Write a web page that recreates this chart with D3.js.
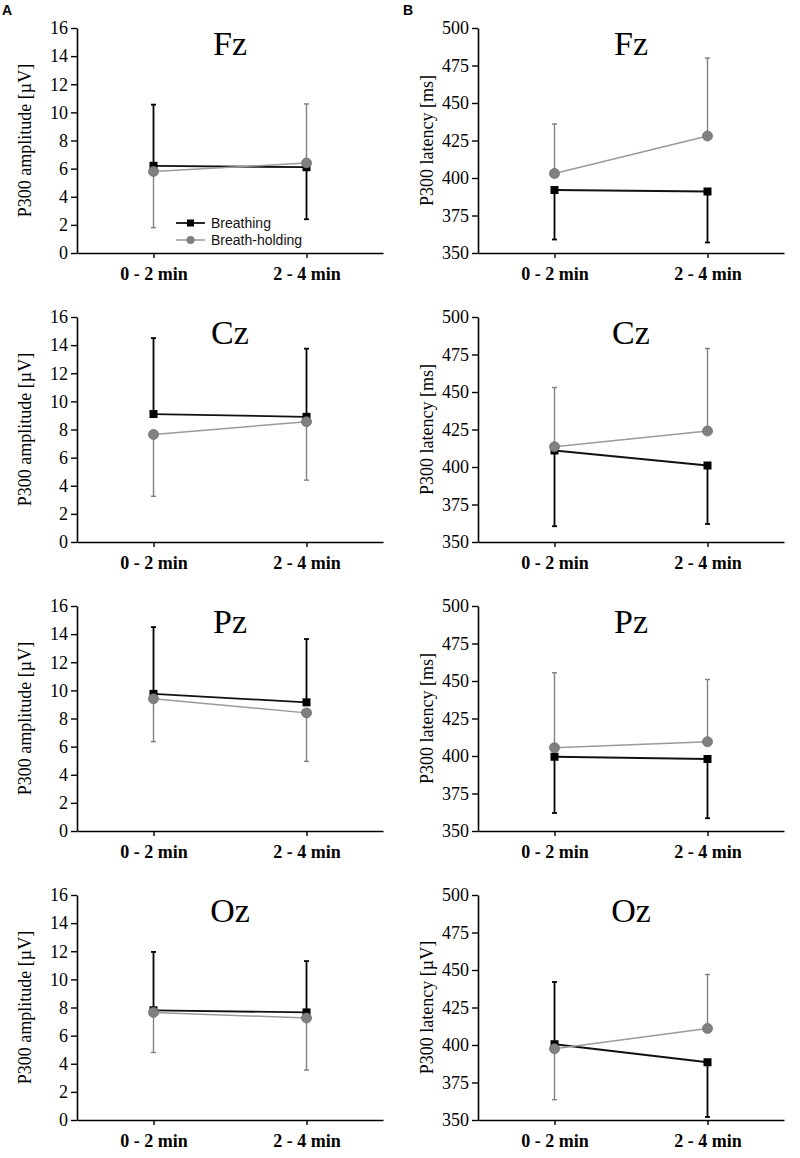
<!DOCTYPE html>
<html><head><meta charset="utf-8">
<script src="https://cdn.jsdelivr.net/npm/d3@7"></script>
<style>body{margin:0;background:#fff}svg{display:block}</style>
</head><body>
<script>
const categories = ["0 - 2 min", "2 - 4 min"];
const electrodes = ["Fz", "Cz", "Pz", "Oz"];
const seriesNames = ["Breathing", "Breath-holding"];
const ampTicks = [0, 2, 4, 6, 8, 10, 12, 14, 16];
const latTicks = [350, 375, 400, 425, 450, 475, 500];
const ampLabels = ["P300 amplitude [µV]", "P300 amplitude [µV]", "P300 amplitude [µV]", "P300 amplitude [µV]"];
const latLabels = ["P300 latency [ms]", "P300 latency [ms]", "P300 latency [ms]", "P300 latency [µV]"];

// Amplitude (µV): means and error-bar end values (one-sided bars)
const ampBreathing    = [[6.2, 6.1], [9.1, 8.9], [9.75, 9.15], [7.8, 7.65]];
const ampBreathingErr = [[10.55, 2.4], [14.5, 13.75], [14.5, 13.65], [11.95, 11.3]];
const ampHolding      = [[5.8, 6.4], [7.65, 8.55], [9.4, 8.4], [7.65, 7.25]];
const ampHoldingErr   = [[1.8, 10.6], [3.25, 4.4], [6.35, 4.95], [4.8, 3.55]];

// Latency (ms)
const latBreathing    = [[392, 391], [411, 401], [399.5, 398], [400.5, 388.5]];
const latBreathingErr = [[359, 357], [360.5, 362], [362, 358.5], [442, 352]];
const latHolding      = [[403, 428], [413.5, 424], [405.5, 409.5], [397.5, 411]];
const latHoldingErr   = [[436, 480], [453, 479], [455.5, 451], [363.5, 447]];

const W = 800, H = 1158;
const svg = d3.select("body").append("svg").attr("width", W).attr("height", H);

const rowTop = 28, rowStep = 289, plotH = 225;
const cols = [
  {x0: 77, x1: 383, ticks: ampTicks, dom: [0, 16], labels: ampLabels, b: ampBreathing, be: ampBreathingErr, h: ampHolding, he: ampHoldingErr, labX: 25},
  {x0: 478, x1: 784, ticks: latTicks, dom: [350, 500], labels: latLabels, b: latBreathing, be: latBreathingErr, h: latHolding, he: latHoldingErr, labX: 427}
];

const serif = "'Liberation Serif','Times New Roman',serif";
const sans = "'Liberation Sans',Arial,sans-serif";
const BLACK = "#000", GREY = "#808080", GREYLINE = "#9a9a9a";

svg.append("text").attr("x", 2).attr("y", 15).text("A")
  .attr("font-family", sans).attr("font-weight", "bold").attr("font-size", 14);
svg.append("text").attr("x", 403).attr("y", 15).text("B")
  .attr("font-family", sans).attr("font-weight", "bold").attr("font-size", 14);

cols.forEach((c, ci) => {
  electrodes.forEach((el, ri) => {
    const top = rowTop + rowStep * ri, bottom = top + plotH;
    const x = d3.scalePoint().domain(categories).range([c.x0, c.x1]).padding(0.5);
    const y = d3.scaleLinear().domain(c.dom).range([bottom, top]);
    const g = svg.append("g");

    const ya = g.append("g").attr("transform", `translate(${c.x0},0)`)
      .call(d3.axisLeft(y).tickValues(c.ticks).tickSize(6).tickSizeOuter(0).tickPadding(3));
    const xa = g.append("g").attr("transform", `translate(0,${bottom})`)
      .call(d3.axisBottom(x).tickSize(5).tickSizeOuter(0).tickPadding(9));
    [ya, xa].forEach(a => {
      a.select(".domain").attr("stroke", "#000").attr("stroke-width", 1.6);
      a.selectAll(".tick line").attr("stroke", "#000").attr("stroke-width", 1.4);
    });
    ya.selectAll("text").attr("font-family", serif).attr("font-size", 18).attr("fill", "#000");
    xa.selectAll("text").attr("font-family", serif).attr("font-size", 18).attr("font-weight", "bold").attr("fill", "#000");

    g.append("text").attr("transform", `translate(${c.labX},${(top + bottom) / 2}) rotate(-90)`)
      .attr("text-anchor", "middle").attr("dy", "0.35em")
      .attr("font-family", serif).attr("font-size", 18).text(c.labels[ri]);

    g.append("text").attr("x", (c.x0 + c.x1) / 2).attr("y", top + 27)
      .attr("text-anchor", "middle").attr("font-family", serif).attr("font-size", 34).text(el);

    const series = [
      {m: c.b[ri], e: c.be[ri], col: BLACK, lcol: "#111", bw: 1.8, lw: 1.8, shape: "square"},
      {m: c.h[ri], e: c.he[ri], col: GREY, lcol: GREYLINE, bw: 1.4, lw: 1.5, shape: "circle"}
    ];
    series.forEach(s => {
      const pts = categories.map((cat, i) => ({cx: x(cat), m: s.m[i], e: s.e[i]}));
      // error bars
      pts.forEach(p => {
        g.append("line").attr("x1", p.cx).attr("x2", p.cx).attr("y1", y(p.m)).attr("y2", y(p.e))
          .attr("stroke", s.col).attr("stroke-width", s.bw);
        g.append("line").attr("x1", p.cx - 2.5).attr("x2", p.cx + 2.5).attr("y1", y(p.e)).attr("y2", y(p.e))
          .attr("stroke", s.col).attr("stroke-width", s.bw);
      });
      g.append("path").datum(pts)
        .attr("d", d3.line().x(p => p.cx).y(p => y(p.m)))
        .attr("fill", "none").attr("stroke", s.lcol).attr("stroke-width", s.lw);
      pts.forEach(p => {
        if (s.shape === "square") {
          g.append("rect").attr("x", p.cx - 4).attr("y", y(p.m) - 4).attr("width", 8).attr("height", 8)
            .attr("fill", BLACK);
        } else {
          g.append("circle").attr("cx", p.cx).attr("cy", y(p.m)).attr("r", 5)
            .attr("fill", GREY).attr("stroke", "#6e6e6e").attr("stroke-width", 0.8);
        }
      });
    });

    if (ci === 0 && ri === 0) {
      const lg = g.append("g");
      const ly = [223, 240];
      seriesNames.forEach((n, i) => {
        const s = series[i];
        lg.append("line").attr("x1", 176).attr("x2", 205).attr("y1", ly[i]).attr("y2", ly[i])
          .attr("stroke", s.lcol).attr("stroke-width", s.lw);
        if (s.shape === "square") {
          lg.append("rect").attr("x", 190.5 - 3.5).attr("y", ly[i] - 3.5).attr("width", 7).attr("height", 7).attr("fill", BLACK);
        } else {
          lg.append("circle").attr("cx", 190.5).attr("cy", ly[i]).attr("r", 4).attr("fill", GREY);
        }
        lg.append("text").attr("x", 211).attr("y", ly[i]).attr("dy", "0.35em")
          .attr("font-family", sans).attr("font-size", 14).attr("fill", "#111").text(n);
      });
    }
  });
});
</script>
</body></html>
